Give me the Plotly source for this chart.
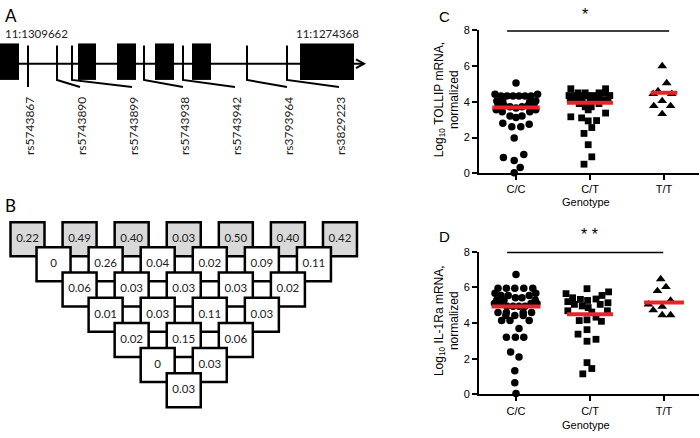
import plotly.graph_objects as go

W, H = 700, 438

# ---------------- Panel A: gene structure ----------------
exon_left = [0, 78, 117, 155, 192, 300]
exon_right = [19, 96, 136, 174, 211, 354]
snp_ids = ["rs5743867", "rs5743890", "rs5743899", "rs5743938",
           "rs5743942", "rs3793964", "rs3829223"]
snp_pos = [28, 57, 72, 144, 183, 247, 287]
snp_label_pos = [28, 80, 132, 183, 235, 287, 339]
coord_labels = ["11:1309662", "11:1274368"]
coord_label_pos = [36, 327]

# ---------------- Panel B: LD triangle ----------------
ld_rows = [
    [0.22, 0.49, 0.40, 0.03, 0.50, 0.40, 0.42],
    [0, 0.26, 0.04, 0.02, 0.09, 0.11],
    [0.06, 0.03, 0.03, 0.03, 0.02],
    [0.01, 0.03, 0.11, 0.03],
    [0.02, 0.15, 0.06],
    [0, 0.03],
    [0.03],
]

# ---------------- Panels C/D: expression by genotype ----------------
genotypes = ["C/C", "C/T", "T/T"]

tollip_cc = [5.05, 4.42, 4.42, 4.33, 4.33, 4.33, 4.33, 4.33, 4.33,
             4.05, 4.0, 4.0, 4.05, 3.88, 3.8, 3.72, 3.65, 3.72, 3.8, 3.88,
             3.55, 3.45, 3.45, 3.55, 3.2, 3.12, 3.2, 2.8, 2.75, 2.6, 2.6,
             1.98, 1.05, 0.88, 0.72, 0.33, 0.03]
tollip_cc_slot = [0, -3.5, 3.6, -2.5, -1.5, -0.5, 0.5, 1.5, 2.5,
                  -3.2, -2.2, 2.3, 3.3, -3.0, -2.0, -1.0, 0, 1.0, 2.0, 3.0,
                  -3.3, -2.3, 2.3, 3.3, -1.0, 0, 1.0, -2.2, 2.2, -0.7, 0.8,
                  -0.3, 1.3, -2.1, -0.3, 0.7, -0.3]
tollip_ct = [4.73, 4.73, 4.5, 4.5, 4.5, 4.5,
             4.35, 4.35, 4.35, 4.35, 4.35, 4.35, 4.35,
             4.12, 4.12, 4.12, 4.12, 4.12, 4.12, 4.12,
             3.9, 3.9, 3.72, 3.72, 3.55, 3.37, 3.16, 3.1, 2.95, 2.93,
             2.56, 2.23, 1.6, 0.92, 0.51]
tollip_ct_slot = [-3.2, 2.6, -2.0, -0.8, 1.5, 2.5,
                  -3.5, -2.5, -1.5, -0.5, 0.5, 1.5, 3.3,
                  -3.3, -2.3, -1.3, 0, 1.0, 2.0, 3.0,
                  -1.8, 1.5, -0.8, 0.2, -0.3, 2.6, -3.2, -1.4, 1.1, -0.3,
                  0.3, -1.0, -0.3, 0.3, -1.0]
tollip_tt = [6.0, 5.05, 4.6, 4.45, 4.45, 4.05, 3.77, 3.77, 3.32]
tollip_tt_slot = [-0.3, 0.45, -1.0, -1.8, 1.3, -0.3, -1.7, 1.1, -0.3]
tollip_median = [3.68, 3.95, 4.5]

il1ra_cc = [6.73, 5.96, 5.96, 5.96, 5.96, 5.96, 5.68, 5.68,
            5.55, 5.55, 5.55, 5.42, 5.42, 5.3, 5.3, 5.3,
            5.1, 5.1, 5.1, 5.1, 4.95, 4.95, 4.95, 4.95,
            4.6, 4.6, 4.6, 4.6, 4.42, 4.42, 4.42, 4.15, 4.15, 4.15,
            3.69, 3.2, 3.2, 3.2, 2.38, 2.1, 1.33, 0.65, 0.05]
il1ra_cc_slot = [0, -3.0, -1.6, -0.2, 1.3, 2.8, -3.5, 3.3,
                 -2.5, -1.3, 2.2, -0.1, 1.0, -3.2, -2.0, 3.2,
                 -3.6, -2.6, 2.5, 3.5, -1.5, -0.5, 0.5, 1.5,
                 -3.0, -1.6, 1.2, 2.6, -1.7, -0.2, 1.2, -2.4, -1.0, 2.2,
                 0.5, -1.6, -0.1, 1.3, -0.9, 0.5, -0.2, -0.2, 0]
il1ra_ct = [5.93, 5.75, 5.65, 5.55, 5.42, 5.35, 5.33, 5.27, 5.2, 5.14,
            5.05, 5.05, 4.96, 4.87, 4.69, 4.69, 4.62, 4.33, 4.18, 4.14, 4.1,
            3.63, 3.38, 3.09, 2.98, 1.78, 1.45, 1.15]
il1ra_ct_slot = [-0.5, 3.1, -4.0, 2.0, -2.9, 1.0, -1.6, -0.4, -3.7, 3.0,
                 -2.6, 1.7, -1.3, -0.3, -3.7, 2.9, 0.3, 1.0, -0.5, -1.8, 1.9,
                 -0.5, -2.0, 1.0, -0.5, -0.5, 0.3, -1.2]
il1ra_tt = [6.47, 6.03, 5.8, 5.27, 5.05, 4.92, 4.72, 4.45, 4.45]
il1ra_tt_slot = [-0.55, 0.33, -1.1, 1.1, -2.6, -0.3, -1.8, -0.3, 1.1]
il1ra_median = [4.93, 4.5, 5.15]

median_halfwidth_c = [0.32, 0.31, 0.18]
median_halfwidth_d = [0.33, 0.31, 0.27]

SLOT = 0.081  # category units per swarm slot
ARIAL = "Liberation Sans, Arial, sans-serif"
CAL = "Lato, Carlito, Calibri, sans-serif"

fig = go.Figure()

# ---------- Panel B traces (pixel overlay axes x3/y3) ----------
bx, by, btxt, bfill = [], [], [], []
for r, row in enumerate(ld_rows):
    for i, v in enumerate(row):
        bx.append(27.5 + 52.08 * (i + r / 2))
        by.append(239.7 + 25.9 * r)
        btxt.append("0" if v == 0 else f"{v:.2f}")
        bfill.append("#d9d9d9" if r == 0 else "white")
fig.add_trace(go.Scatter(
    x=bx, y=by, text=btxt, mode="markers+text", xaxis="x3", yaxis="y3",
    marker=dict(symbol="square", size=34, color=bfill,
                line=dict(color="black", width=2.5)),
    textfont=dict(family=CAL, size=11.5, color="#222"),
    textposition="middle center", hoverinfo="skip", showlegend=False,
    cliponaxis=False))

# ---------- Panels C/D ----------
def add_group(vals, slots, cat, symbol, size, xa, ya):
    fig.add_trace(go.Scatter(
        x=[cat + s * SLOT for s in slots], y=vals, mode="markers",
        xaxis=xa, yaxis=ya,
        marker=dict(symbol=symbol, size=size, color="black", line=dict(width=0)),
        showlegend=False, cliponaxis=False, hoverinfo="y"))

for xa, ya, groups, med, hw in [
    ("x", "y", [(tollip_cc, tollip_cc_slot), (tollip_ct, tollip_ct_slot), (tollip_tt, tollip_tt_slot)], tollip_median, median_halfwidth_c),
    ("x2", "y2", [(il1ra_cc, il1ra_cc_slot), (il1ra_ct, il1ra_ct_slot), (il1ra_tt, il1ra_tt_slot)], il1ra_median, median_halfwidth_d),
]:
    syms = [("circle", 7.5), ("square", 6.8), ("triangle-up", 8.5)]
    for k, (vals, slots) in enumerate(groups):
        add_group(vals, slots, k, syms[k][0], syms[k][1], xa, ya)
    for k, m in enumerate(med):
        fig.add_trace(go.Scatter(
            x=[k - hw[k], k + hw[k]], y=[m, m], mode="lines", xaxis=xa, yaxis=ya,
            line=dict(color="#e8242b", width=4), showlegend=False, hoverinfo="skip"))

shapes = []
# Panel A shapes (pixel coords)
shapes.append(dict(type="line", xref="x3", yref="y3", x0=0, x1=363, y0=59.3, y1=59.3,
                   line=dict(color="black", width=2)))
shapes.append(dict(type="path", xref="x3", yref="y3",
                   path="M 356 54.8 L 364 59.3 L 356 63.8",
                   line=dict(color="black", width=2)))
for l, r_ in zip(exon_left, exon_right):
    shapes.append(dict(type="rect", xref="x3", yref="y3", x0=l, x1=r_, y0=38.5, y1=76,
                       fillcolor="black", line=dict(width=0)))
for sp, lp in zip(snp_pos, snp_label_pos):
    if sp == lp:
        path = f"M {sp} 40.7 L {sp} 83.3"
    else:
        path = f"M {sp} 40.7 L {sp} 76 L {lp} 83.3"
    shapes.append(dict(type="path", xref="x3", yref="y3", path=path,
                       line=dict(color="black", width=2)))
# significance bars
shapes.append(dict(type="line", xref="x", yref="y", x0=-0.12, x1=2.07, y0=8, y1=8,
                   line=dict(color="black", width=3)))
shapes.append(dict(type="line", xref="x2", yref="y2", x0=-0.12, x1=1.99, y0=8, y1=8,
                   line=dict(color="black", width=3)))

ann = []
ann.append(dict(text="A", x=3, y=10, xref="x3", yref="y3", xanchor="left", yanchor="middle",
                showarrow=False, font=dict(family=CAL, size=17, color="black")))
ann.append(dict(text="B", x=3, y=205, xref="x3", yref="y3", xanchor="left", yanchor="middle",
                showarrow=False, font=dict(family=CAL, size=17, color="black")))
for t, px in zip(coord_labels, coord_label_pos):
    ann.append(dict(text=t, x=px, y=28, xref="x3", yref="y3", showarrow=False,
                    font=dict(family=CAL, size=11.5, color="#222")))
for t, lp in zip(snp_ids, snp_label_pos):
    ann.append(dict(text=t, x=lp + 1.5, y=92, xref="x3", yref="y3", textangle=-90,
                    xanchor="center", yanchor="top", showarrow=False,
                    font=dict(family=CAL, size=12, color="#222")))
ann.append(dict(text="C", x=444, y=11, xref="x3", yref="y3", showarrow=False,
                font=dict(family=ARIAL, size=15, color="black")))
ann.append(dict(text="D", x=444, y=237, xref="x3", yref="y3", showarrow=False,
                font=dict(family=ARIAL, size=15, color="black")))
ann.append(dict(text="Log<sub>10</sub> TOLLIP mRNA,<br>normalized", x=447, y=97,
                xref="x3", yref="y3", textangle=-90, showarrow=False,
                font=dict(family=ARIAL, size=12, color="black")))
ann.append(dict(text="Log<sub>10</sub> IL-1Ra mRNA,<br>normalized", x=447, y=324,
                xref="x3", yref="y3", textangle=-90, showarrow=False,
                font=dict(family=ARIAL, size=12, color="black")))
ann.append(dict(text="Genotype", x=586, y=202, xref="x3", yref="y3", showarrow=False,
                font=dict(family=ARIAL, size=11, color="black")))
ann.append(dict(text="Genotype", x=586, y=431, xref="x3", yref="y3", showarrow=False,
                font=dict(family=ARIAL, size=11, color="black")))
ann.append(dict(text="*", x=585, y=9, xref="x3", yref="y3", showarrow=False,
                font=dict(family=ARIAL, size=16, color="black")))
ann.append(dict(text="* *", x=589, y=234.5, xref="x3", yref="y3", showarrow=False,
                font=dict(family=ARIAL, size=16, color="black")))

def xax(domain):
    return dict(domain=domain, range=[-0.5, 2.473], tickmode="array", tickvals=[0, 1, 2],
                ticktext=genotypes, showline=True, linecolor="black", linewidth=2,
                ticks="outside", ticklen=5, tickwidth=2, tickcolor="black",
                showgrid=False, zeroline=False, fixedrange=True,
                tickfont=dict(family=ARIAL, size=11, color="black"))

def yax(domain, anchor):
    return dict(domain=domain, range=[0, 8], tickvals=[0, 2, 4, 6, 8], showline=True,
                linecolor="black", linewidth=2, ticks="outside", ticklen=5, tickwidth=2,
                tickcolor="black", showgrid=False, zeroline=False, fixedrange=True,
                anchor=anchor, tickfont=dict(family=ARIAL, size=11, color="black"))

xd = [479 / W, 699 / W]
fig.update_layout(
    width=W, height=H, margin=dict(l=0, r=0, t=0, b=0),
    paper_bgcolor="white", plot_bgcolor="rgba(0,0,0,0)",
    xaxis=dict(**xax(xd), anchor="y"),
    yaxis=yax([1 - 172 / H, 1 - 25 / H], "x"),
    xaxis2=dict(**xax(xd), anchor="y2"),
    yaxis2=yax([1 - 399.3 / H, 1 - 252.7 / H], "x2"),
    xaxis3=dict(domain=[0, 1], range=[0, W], visible=False, fixedrange=True, anchor="y3"),
    yaxis3=dict(domain=[0, 1], range=[H, 0], visible=False, fixedrange=True, anchor="x3"),
    shapes=shapes, annotations=ann,
)

fig.write_html("out.html", config={"displayModeBar": False, "staticPlot": True},
               post_script="document.body.style.margin='0px';document.body.style.overflow='hidden';")
